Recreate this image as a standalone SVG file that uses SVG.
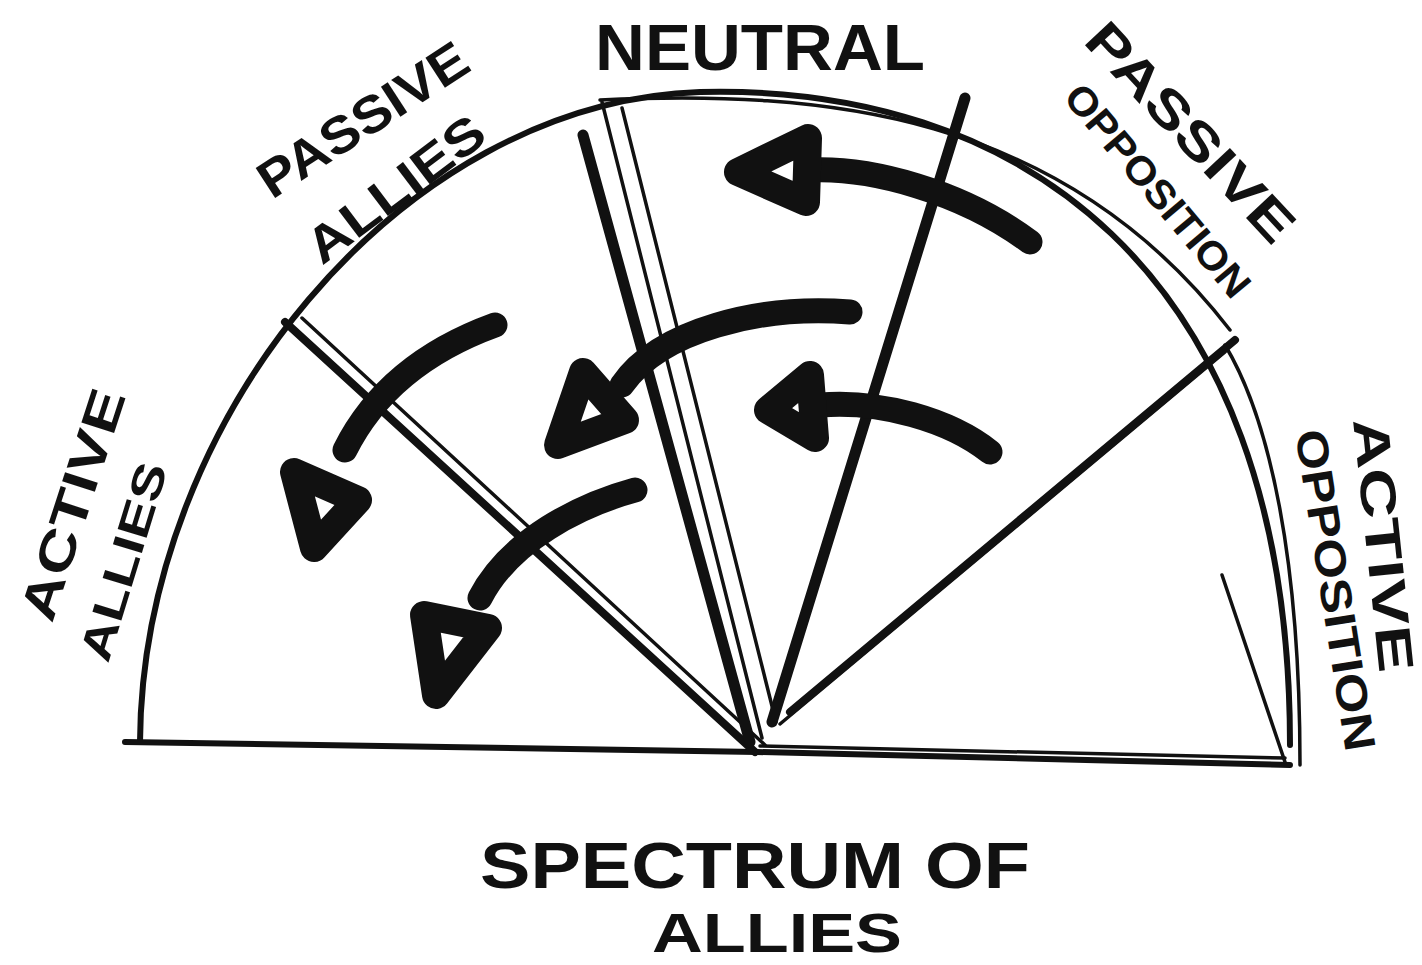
<svg xmlns="http://www.w3.org/2000/svg" width="1422" height="965" viewBox="0 0 1422 965">
<style>
.ln{fill:none;stroke:#111;stroke-linecap:round;stroke-linejoin:round}
.thin{stroke-width:3.5}
.mid{stroke-width:6}
.mid2{stroke-width:8}
.thick{stroke-width:11}
.shaft{fill:none;stroke:#111;stroke-width:25;stroke-linecap:round}
.head{fill:#fff;stroke:#111;stroke-width:28;stroke-linejoin:round}
.lbl{font-family:"Liberation Sans",Arial,sans-serif;font-weight:bold;fill:#111}
</style>
<rect width="1422" height="965" fill="#fff"/>
<g id="frame">
<path class="ln mid" d="M140 742 C142 420 400 102 700 92 C1010 84 1290 260 1290 745"/>
<path class="ln thin" d="M600 100 C820 90 1060 110 1230 330"/>
<path class="ln thin" d="M1225 345 C1270 420 1300 560 1300 765"/>
<path class="ln mid" d="M125 742 L757 752 L1290 765"/>
<path class="ln thin" d="M760 746 L1285 758"/>
</g>
<g id="dividers">
<path class="ln mid2" d="M285 322 L755 752"/>
<path class="ln thin" d="M302 318 L765 745"/>
<path class="ln thick" d="M583 135 L750 742"/>
<path class="ln thin" d="M602 102 L762 738"/>
<path class="ln thin" d="M622 108 L776 722"/>
<path class="ln thick" d="M965 98 L772 722"/>
<path class="ln mid2" d="M1235 340 L790 712"/>
<path class="ln thin" d="M1225 352 L780 724"/>
<path class="ln thin" d="M1222 575 L1285 762"/>
</g>
<g id="connectors">
<path class="shaft" d="M812 170 C870 168 960 190 1030 242"/>
<polygon class="head" points="738,172 808,138 806,202"/>
<path class="shaft" d="M850 312 C760 305 660 330 622 385"/>
<polygon class="head" points="558,445 583,372 625,420"/>
<path class="shaft" d="M990 452 C950 420 880 400 820 405"/>
<polygon class="head" points="768,410 810,375 815,438"/>
<path class="shaft" d="M495 325 C440 345 380 380 345 450"/>
<polygon class="head" points="294,472 358,500 314,548"/>
<path class="shaft" d="M635 490 C580 505 510 540 480 598"/>
<polygon class="head" points="424,615 488,628 436,695"/>
</g>
<g id="labels">
<text class="lbl" x="595" y="70" font-size="64" textLength="330" lengthAdjust="spacingAndGlyphs">NEUTRAL</text>
<text class="lbl" font-size="52" textLength="240" lengthAdjust="spacingAndGlyphs" transform="translate(272 200) rotate(-33)">PASSIVE</text>
<text class="lbl" font-size="50" textLength="210" lengthAdjust="spacingAndGlyphs" transform="translate(322 266) rotate(-37)">ALLIES</text>
<text class="lbl" font-size="52" textLength="280" lengthAdjust="spacingAndGlyphs" transform="translate(1082 42) rotate(47)">PASSIVE</text>
<text class="lbl" font-size="40" textLength="265" lengthAdjust="spacingAndGlyphs" transform="translate(1062 98) rotate(50)">OPPOSITION</text>
<text class="lbl" font-size="50" textLength="240" lengthAdjust="spacingAndGlyphs" transform="translate(52 624) rotate(-72)">ACTIVE</text>
<text class="lbl" font-size="44" textLength="205" lengthAdjust="spacingAndGlyphs" transform="translate(108 664) rotate(-73)">ALLIES</text>
<text class="lbl" font-size="50" textLength="255" lengthAdjust="spacingAndGlyphs" transform="translate(1353 420) rotate(84)">ACTIVE</text>
<text class="lbl" font-size="44" textLength="325" lengthAdjust="spacingAndGlyphs" transform="translate(1295 432) rotate(81)">OPPOSITION</text>
<text class="lbl" x="480" y="888" font-size="64" textLength="550" lengthAdjust="spacingAndGlyphs">SPECTRUM OF</text>
<text class="lbl" x="652" y="952" font-size="56" textLength="250" lengthAdjust="spacingAndGlyphs">ALLIES</text>
</g>
</svg>
